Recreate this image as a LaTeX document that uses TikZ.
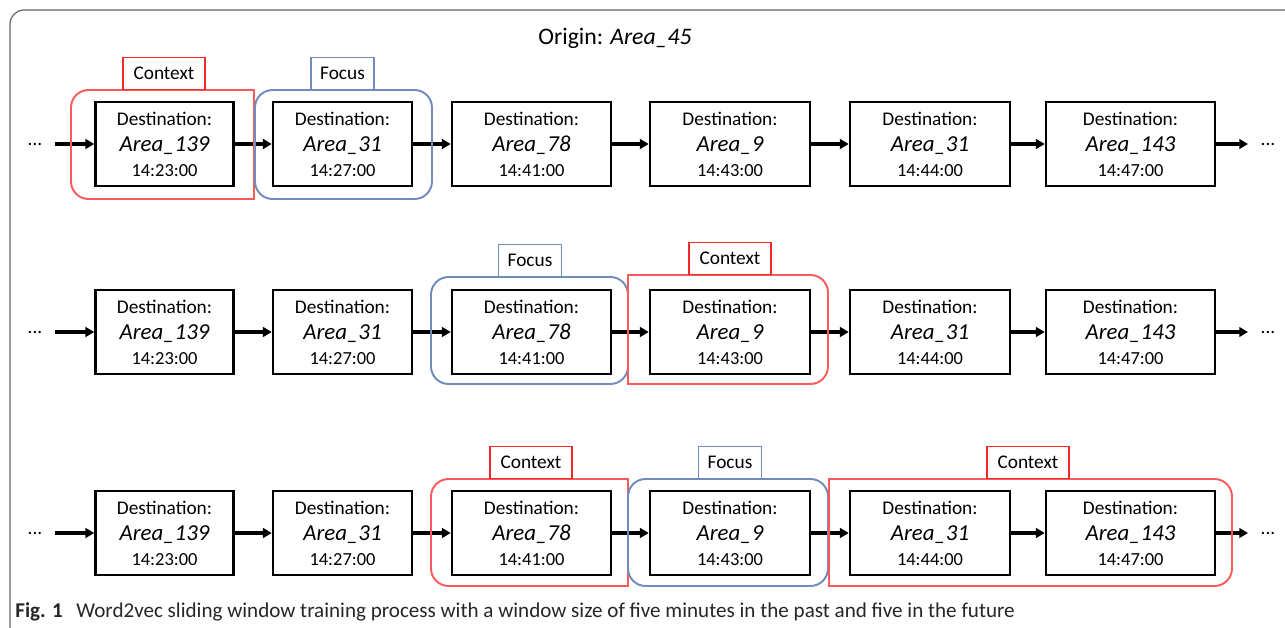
\documentclass[tikz,border=0pt]{standalone}
\usepackage{fontspec}
\setmainfont{Carlito}
\usepackage{tikz}
\usetikzlibrary{arrows.meta,positioning,calc}

\definecolor{ctxred}{RGB}{250,90,90}
\definecolor{tagred}{RGB}{245,40,40}
\definecolor{focblue}{RGB}{112,140,188}

\newcommand{\destlabel}[2]{Destination:\\[1pt]{\fontsize{13}{14}\selectfont\itshape #1}\\[0pt]{\fontsize{10.5}{13}\selectfont #2}}

\begin{document}
\begin{tikzpicture}[x=0.02cm, y=-0.02cm,
    dest/.style={draw, line width=1.4pt, minimum height=1.68cm, align=center, inner sep=0pt, font=\fontsize{11}{14}\selectfont},
    link/.style={-{Triangle[length=5pt,width=5.5pt]}, line width=2.3pt},
    dots/.style={inner xsep=7pt, inner ysep=1pt, font=\fontsize{11}{13}\selectfont},
    ctx/.style={draw=ctxred, line width=1.1pt},
    foc/.style={draw=focblue, line width=1.1pt},
    ctxtag/.style={draw=tagred, line width=0.8pt, minimum width=1.64cm, minimum height=0.64cm, inner sep=0pt, anchor=south, font=\fontsize{11}{13}\selectfont},
    foctag/.style={draw=focblue, line width=0.8pt, minimum width=1.26cm, minimum height=0.64cm, inner sep=0pt, anchor=south, font=\fontsize{11}{13}\selectfont}]

    \useasboundingbox (0,0) rectangle (1285,628);
    \clip (0,0) rectangle (1285,628);

    % Frame
    \draw[black!60, line width=0.7pt, rounded corners=8pt] (10,10) rectangle (1310,660);

    % Title
    \node[anchor=base, font=\fontsize{13.5}{16}\selectfont] (title) at (615,45) {Origin: \textit{Area\_45}};

    % Rows of destinations
    \foreach \r/\y in {1/144, 2/332, 3/533} {
        \foreach \i/\x/\w/\a/\t in {1/164.5/138/Area\_139/14:23:00, 2/342.5/139/Area\_31/14:27:00,
                                    3/531.5/159/Area\_78/14:41:00, 4/730/160/Area\_9/14:43:00,
                                    5/930/160/Area\_31/14:44:00, 6/1130.5/169/Area\_143/14:47:00}
            \node[dest, minimum width=\w*0.02cm] (r\r b\i) at (\x,\y) {\destlabel{\a}{\t}};
        \node[dots] (r\r l) at (35,\y) {...};
        \node[dots] (r\r r) at (1268,\y) {...};
        \draw[link] (r\r l) -- (r\r b1);
        \foreach \i [count=\j from 2] in {1,...,5}
            \draw[link] (r\r b\i) -- (r\r b\j);
        \draw[link] (r\r b6) -- (r\r r);
    }

    % Row 1 windows
    \draw[ctx] (254,90) [rounded corners=10pt] -- (71,90) -- (71,199) [sharp corners] -- (254,199) -- cycle;
    \draw[foc, rounded corners=10pt] (255,90) rectangle (432,199);
    \node[ctxtag] (r1c) at (164,90) {Context};
    \node[foctag] (r1f) at (342.5,90) {Focus};

    % Row 2 windows
    \draw[foc, rounded corners=10pt] (431,277) rectangle (628,384);
    \draw[ctx] (628,275) [rounded corners=10pt] -- (828,275) -- (828,384) [sharp corners] -- (628,384) -- cycle;
    \node[foctag] (r2f) at (530,277) {Focus};
    \node[ctxtag] (r2c) at (730,275) {Context};

    % Row 3 windows
    \draw[ctx] (628,479) [rounded corners=10pt] -- (431,479) -- (431,586) [sharp corners] -- (628,586) -- cycle;
    \draw[foc, rounded corners=10pt] (628,479) rectangle (828,586);
    \draw[ctx] (829,479) [rounded corners=10pt] -- (1232,479) -- (1232,586) [sharp corners] -- (829,586) -- cycle;
    \node[ctxtag] (r3c) at (531,479) {Context};
    \node[foctag] (r3f) at (730,479) {Focus};
    \node[ctxtag] (r3d) at (1028,479) {Context};

    % Caption
    \node[anchor=base west, inner sep=0pt, text=black!85, font=\fontsize{12}{15}\selectfont] (cap) at (15,617)
        {\textbf{Fig. 1}\hspace{5pt} Word2vec sliding window training process with a window size of five minutes in the past and five in the future};
\end{tikzpicture}
\end{document}
